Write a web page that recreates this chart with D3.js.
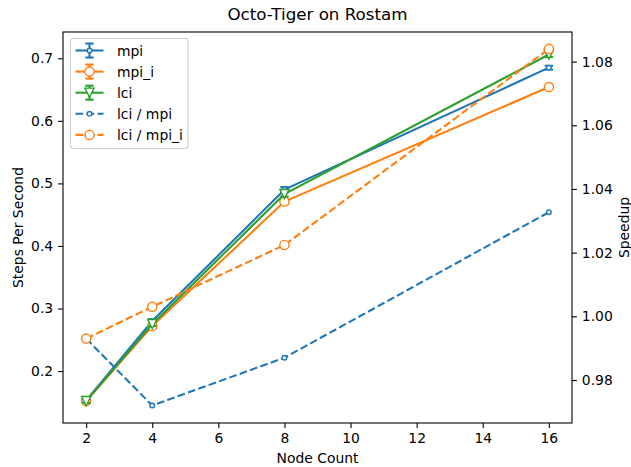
<!DOCTYPE html>
<html>
<head>
<meta charset="utf-8">
<script src="https://cdn.jsdelivr.net/npm/d3@7"></script>
<style>
  body { margin: 0; background: #fff; }
  svg { font-family: "DejaVu Sans", sans-serif; }
</style>
</head>
<body>
<div id="chart"></div>
<script>
// chart data
const nodes = [2, 4, 8, 16];
const mpi = [0.153, 0.280, 0.490, 0.685];
const mpiErr = [0.003, 0.003, 0.004, 0.003];
const mpiI = [0.152, 0.272, 0.471, 0.654];
const mpiIErr = [0.002, 0.003, 0.003, 0.002];
const lci = [0.152, 0.275, 0.483, 0.706];
const lciErr = [0.003, 0.003, 0.004, 0.004];
const speedupMpi = [0.993, 0.972, 0.987, 1.0327];
const speedupMpiI = [0.993, 1.003, 1.0224, 1.084];
const xTicks = [2, 4, 6, 8, 10, 12, 14, 16];
const yLeftTicks = [0.2, 0.3, 0.4, 0.5, 0.6, 0.7];
const yRightTicks = [0.98, 1.00, 1.02, 1.04, 1.06, 1.08];

const width = 631, height = 467;
const margin = {top: 32, right: 59, bottom: 44, left: 63};
const plotW = width - margin.left - margin.right;
const plotH = height - margin.top - margin.bottom;

const blue = "#1f77b4", orange = "#ff7f0e", green = "#2ca02c";
const lw = 2.08;

const svg = d3.select("#chart").append("svg")
    .attr("width", width)
    .attr("height", height);

const g = svg.append("g")
    .attr("transform", `translate(${margin.left},${margin.top})`);

const x = d3.scaleLinear().domain([1.3, 16.7]).range([0, plotW]);
const yL = d3.scaleLinear().domain([0.117, 0.742]).range([plotH, 0]);
const yR = d3.scaleLinear().domain([0.9665, 1.0893]).range([plotH, 0]);

// axes
const fontPx = 13.9;
const xAxis = g.append("g").attr("transform", `translate(0,${plotH})`)
    .call(d3.axisBottom(x).tickValues(xTicks).tickFormat(d3.format("d")).tickSizeOuter(0).tickSize(4.9).tickPadding(4.9));
const yAxisL = g.append("g")
    .call(d3.axisLeft(yL).tickValues(yLeftTicks).tickFormat(d3.format(".1f")).tickSizeOuter(0).tickSize(4.9).tickPadding(4.9));
const yAxisR = g.append("g").attr("transform", `translate(${plotW},0)`)
    .call(d3.axisRight(yR).tickValues(yRightTicks).tickFormat(d3.format(".2f")).tickSizeOuter(0).tickSize(4.9).tickPadding(4.9));

[xAxis, yAxisL, yAxisR].forEach(a => {
    a.select(".domain").remove();
    a.selectAll(".tick line").attr("stroke", "#000").attr("stroke-width", 1.1);
    a.selectAll(".tick text").attr("fill", "#000").style("font-size", fontPx + "px")
        .style("font-family", "DejaVu Sans");
});

// axes frame
g.append("rect")
    .attr("x", 0).attr("y", 0)
    .attr("width", plotW).attr("height", plotH)
    .attr("fill", "none")
    .attr("stroke", "#000")
    .attr("stroke-width", 1.1);

const plot = g.append("g");

function drawSeries(vals, errs, yScale, color, marker, dashed) {
    const pts = nodes.map((n, i) => ({x: x(n), y: yScale(vals[i])}));
    const line = d3.line().x(d => d.x).y(d => d.y);
    plot.append("path")
        .datum(pts)
        .attr("d", line)
        .attr("fill", "none")
        .attr("stroke", color)
        .attr("stroke-width", lw)
        .attr("stroke-dasharray", dashed ? "7.7,3.3" : null);
    if (errs) {
        const eb = plot.append("g");
        nodes.forEach((n, i) => {
            const y1 = yScale(vals[i] - errs[i]), y2 = yScale(vals[i] + errs[i]);
            eb.append("line").attr("x1", x(n)).attr("x2", x(n)).attr("y1", y1).attr("y2", y2)
                .attr("stroke", color).attr("stroke-width", lw);
            [y1, y2].forEach(yy => {
                eb.append("line").attr("x1", x(n) - 4.2).attr("x2", x(n) + 4.2)
                    .attr("y1", yy).attr("y2", yy)
                    .attr("stroke", color).attr("stroke-width", lw);
            });
        });
    }
    pts.forEach(p => drawMarker(plot, p.x, p.y, color, marker));
}

function drawMarker(parent, cx, cy, color, marker) {
    if (marker === "small") {
        parent.append("circle").attr("cx", cx).attr("cy", cy).attr("r", 2.3)
            .attr("fill", "#fff").attr("stroke", color).attr("stroke-width", 1.4);
    } else if (marker === "circle") {
        parent.append("circle").attr("cx", cx).attr("cy", cy).attr("r", 4.6)
            .attr("fill", "#fff").attr("stroke", color).attr("stroke-width", 1.4);
    } else if (marker === "tri") {
        const s = 4.6;
        parent.append("path")
            .attr("d", `M${cx - s},${cy - s}L${cx + s},${cy - s}L${cx},${cy + s}Z`)
            .attr("fill", "#fff").attr("stroke", color).attr("stroke-width", 1.4);
    }
}

drawSeries(mpi, mpiErr, yL, blue, "small", false);
drawSeries(mpiI, mpiIErr, yL, orange, "circle", false);
drawSeries(lci, lciErr, yL, green, "tri", false);
drawSeries(speedupMpi, null, yR, blue, "small", true);
drawSeries(speedupMpiI, null, yR, orange, "circle", true);

// title and axis labels
svg.append("text")
    .attr("x", margin.left + plotW / 2).attr("y", 20)
    .attr("text-anchor", "middle")
    .style("font-size", "16.7px")
    .attr("fill", "#000")
    .text("Octo-Tiger on Rostam");

svg.append("text")
    .attr("x", margin.left + plotW / 2).attr("y", 463)
    .attr("text-anchor", "middle")
    .style("font-size", fontPx + "px")
    .attr("fill", "#000")
    .text("Node Count");

svg.append("text")
    .attr("transform", `translate(17.5,${margin.top + plotH / 2}) rotate(-90)`)
    .attr("text-anchor", "middle")
    .attr("dominant-baseline", "central")
    .style("font-size", fontPx + "px")
    .attr("fill", "#000")
    .text("Steps Per Second");

svg.append("text")
    .attr("transform", `translate(624,${margin.top + plotH / 2}) rotate(-90)`)
    .attr("text-anchor", "middle")
    .attr("dominant-baseline", "central")
    .style("font-size", fontPx + "px")
    .attr("fill", "#000")
    .text("Speedup");

// legend
const legendItems = [
    {label: "mpi", color: blue, marker: "small", dashed: false, err: true},
    {label: "mpi_i", color: orange, marker: "circle", dashed: false, err: true},
    {label: "lci", color: green, marker: "tri", dashed: false, err: true},
    {label: "lci / mpi", color: blue, marker: "small", dashed: true, err: false},
    {label: "lci / mpi_i", color: orange, marker: "circle", dashed: true, err: false}
];
const legend = svg.append("g").attr("transform", "translate(70.5,38.5)");
legend.append("rect")
    .attr("width", 117.5).attr("height", 110)
    .attr("rx", 3).attr("ry", 3)
    .attr("fill", "#fff").attr("fill-opacity", 0.8)
    .attr("stroke", "#ccc").attr("stroke-width", 1.1);
legendItems.forEach((it, i) => {
    const cy = 12 + i * 21.1;
    const x0 = 5, x1 = 33, xm = (x0 + x1) / 2;
    legend.append("line")
        .attr("x1", x0).attr("x2", x1).attr("y1", cy).attr("y2", cy)
        .attr("stroke", it.color).attr("stroke-width", lw)
        .attr("stroke-dasharray", it.dashed ? "7.7,3.3" : null);
    if (it.err) {
        legend.append("line").attr("x1", xm).attr("x2", xm).attr("y1", cy - 7).attr("y2", cy + 7)
            .attr("stroke", it.color).attr("stroke-width", lw);
        [cy - 7, cy + 7].forEach(yy => {
            legend.append("line").attr("x1", xm - 4.2).attr("x2", xm + 4.2).attr("y1", yy).attr("y2", yy)
                .attr("stroke", it.color).attr("stroke-width", lw);
        });
    }
    drawMarker(legend, xm, cy, it.color, it.marker);
    legend.append("text")
        .attr("x", 46.5).attr("y", cy)
        .attr("dominant-baseline", "central")
        .style("font-size", fontPx + "px")
        .attr("fill", "#000")
        .text(it.label);
});
</script>
</body>
</html>
